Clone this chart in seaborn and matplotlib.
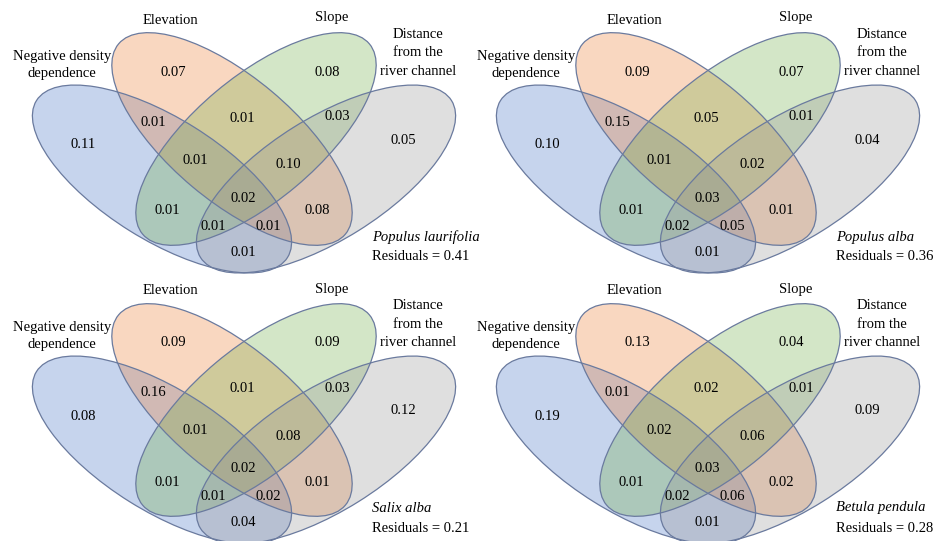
import matplotlib
matplotlib.use("Agg")
import matplotlib.pyplot as plt
from matplotlib.patches import Ellipse
import seaborn as sns

sns.set_theme(style="white")
plt.rcParams['font.family'] = ['Liberation Serif', 'DejaVu Serif']

# ---------------- data ----------------
set_names = ["Negative density\ndependence", "Elevation", "Slope",
             "Distance\nfrom the\nriver channel"]
species = ["Populus laurifolia", "Populus alba", "Salix alba", "Betula pendula"]
residuals = [0.41, 0.36, 0.21, 0.28]
regions = ["N", "E", "S", "D", "NE", "ES", "SD", "NES", "ESD", "NESD",
           "NS", "ED", "NSD", "NED", "ND"]
populus_laurifolia = [0.11, 0.07, 0.08, 0.05, 0.01, 0.01, 0.03, 0.01, 0.10, 0.02,
                      0.01, 0.08, 0.01, 0.01, 0.01]
populus_alba = [0.10, 0.09, 0.07, 0.04, 0.15, 0.05, 0.01, 0.01, 0.02, 0.03,
                0.01, 0.01, 0.02, 0.05, 0.01]
salix_alba = [0.08, 0.09, 0.09, 0.12, 0.16, 0.01, 0.03, 0.01, 0.08, 0.02,
              0.01, 0.01, 0.01, 0.02, 0.04]
betula_pendula = [0.19, 0.13, 0.04, 0.09, 0.01, 0.02, 0.01, 0.02, 0.06, 0.03,
                  0.01, 0.02, 0.02, 0.06, 0.01]
panel_values = [populus_laurifolia, populus_alba, salix_alba, betula_pendula]

# ---------------- layout (pixel units inside one panel) ----------------
W, H = 942, 541
panel_offsets = [(0, 0), (464, 0), (0, 271), (464, 271)]
# ellipses: center x, center y, width, height, angle (y axis points down)
ellipses = [(162, 179, 296, 122, 32),
            (232, 139, 296, 124, 40),
            (256, 139, 296, 124, -40),
            (326, 179, 296, 122, -32)]
fill_colors = ["#4472C4", "#ED7D31", "#70AD47", "#959595"]
edge_color = "#6A7A9E"
region_pos = {"N": (83, 145), "E": (173, 72), "S": (327, 72), "D": (403, 140),
              "NE": (153, 122), "ES": (242, 118), "SD": (337, 117),
              "NES": (195, 160), "ESD": (288, 165), "NESD": (243, 198),
              "NS": (167, 211), "ED": (317, 211), "NSD": (213, 226),
              "NED": (268, 226), "ND": (243, 252)}
name_pos = [(62, 65), (170, 20), (332, 18), (418, 53)]
name_spacing = [1.4, 1.2, 1.2, 1.55]
fs = 10.5

fig = plt.figure(figsize=(W / 100, H / 100), dpi=100)
ax = fig.add_axes([0, 0, 1, 1])
ax.set_xlim(0, W)
ax.set_ylim(H, 0)
ax.axis("off")

for (ox, oy), vals, sp, res in zip(panel_offsets, panel_values, species, residuals):
    for (cx, cy, ew, eh, ang), col in zip(ellipses, fill_colors):
        ax.add_patch(Ellipse((ox + cx, oy + cy), ew, eh, angle=ang,
                             facecolor=col, alpha=0.3, edgecolor="none"))
    for (cx, cy, ew, eh, ang) in ellipses:
        ax.add_patch(Ellipse((ox + cx, oy + cy), ew, eh, angle=ang,
                             facecolor="none", edgecolor=edge_color, lw=0.9))
    for reg, v in zip(regions, vals):
        px, py = region_pos[reg]
        ax.text(ox + px, oy + py, f"{v:.2f}", ha="center", va="center",
                fontsize=fs, color="black")
    for name, (px, py), ls in zip(set_names, name_pos, name_spacing):
        ax.text(ox + px, oy + py, name, ha="center", va="center",
                fontsize=fs, color="black", linespacing=ls)
    ax.text(ox + 372, oy + 237, sp, ha="left", va="center", fontsize=fs,
            style="italic", color="black")
    ax.text(ox + 372, oy + 257, f"Residuals = {res:.2f}", ha="left",
            va="center", fontsize=fs, color="black")

fig.savefig("out.png", dpi=100)
